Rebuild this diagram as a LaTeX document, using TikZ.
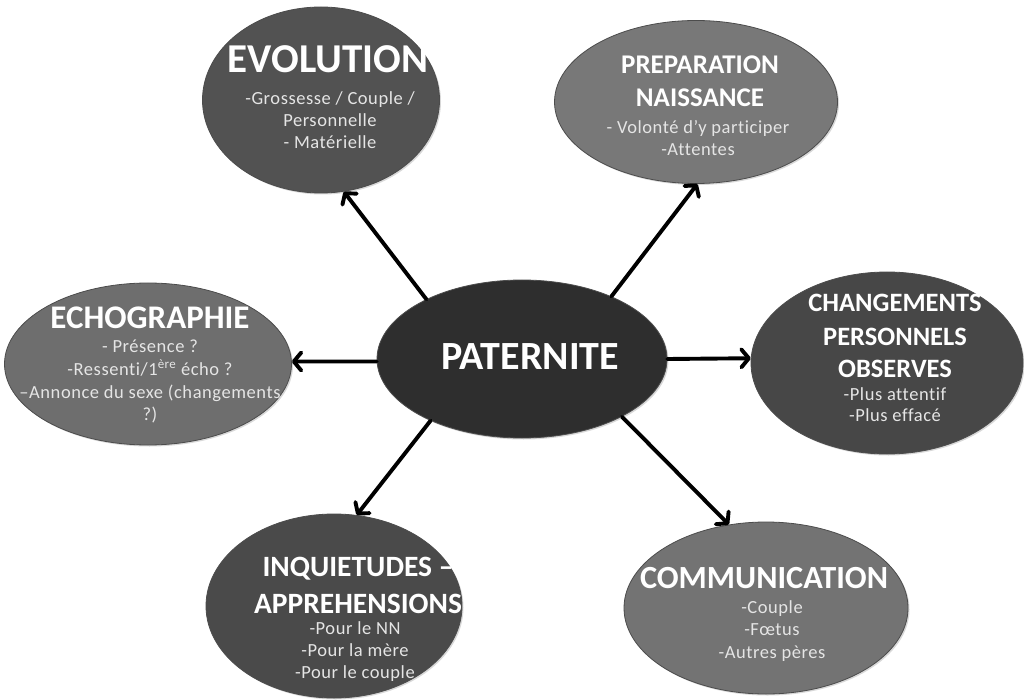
\documentclass[tikz,border=0pt]{standalone}
\usepackage{fontspec}
\setmainfont{Carlito}
\usetikzlibrary{arrows.meta,shapes.geometric,shadows}
\begin{document}
\begin{tikzpicture}[x=1pt,y=-1pt,
  bubble/.style={ellipse, draw=black!70, line width=0.8pt, inner sep=0pt,
    drop shadow={shadow xshift=1.5pt,shadow yshift=-1.5pt,fill=black!30}},
  ttl/.style 2 args={text=white, inner sep=0pt, font=\bfseries\fontsize{#1}{#1}\selectfont,
    text height=#2pt, text depth=0pt},
  sub/.style={text=white!90!black, inner sep=0pt,
    font=\addfontfeature{LetterSpace=3,Ligatures=NoCommon}\fontsize{18.5}{22}\selectfont,
    text height=12.5pt, text depth=0pt},
  link/.style={line width=3.9pt, line cap=round,
    -{Straight Barb[length=7.5pt,width=18pt,round]}}]
\useasboundingbox (0,0) rectangle (1024,700);
\fill[white] (0,0) rectangle (1024,700);

\node[bubble, fill=black!68, minimum width=237pt, minimum height=186pt] (evo) at (321,100) {};
\node[bubble, fill=black!53, minimum width=283pt, minimum height=163pt] (prep) at (696,102) {};
\node[bubble, fill=black!57, minimum width=287pt, minimum height=162pt] (echo) at (148,364) {};
\node[bubble, fill=black!82, minimum width=290pt, minimum height=158pt] (pat) at (522,359) {};
\node[bubble, fill=black!72, minimum width=272pt, minimum height=182pt] (chg) at (887,363) {};
\node[bubble, fill=black!71, minimum width=256pt, minimum height=184pt] (inq) at (334,606) {};
\node[bubble, fill=black!55, minimum width=284pt, minimum height=172pt] (com) at (766,608) {};

% EVOLUTION
\node[ttl={41}{26}] (evo1) at (328,60) {EVOLUTION};
\node[sub] (evo2) at (330,98) {-Grossesse / Couple /};
\node[sub] (evo3) at (330,120) {Personnelle};
\node[sub] (evo4) at (330,142) {- Matérielle};
% PREPARATION
\node[ttl={27}{17}] (prep1) at (700,65) {PREPARATION};
\node[ttl={27}{17}] (prep2) at (700,98) {NAISSANCE};
\node[sub] (prep3) at (698,127) {- Volonté d’y participer};
\node[sub] (prep4) at (698,149) {-Attentes};
% ECHOGRAPHIE
\node[ttl={33}{21}] (echo1) at (150,318) {ECHOGRAPHIE};
\node[sub] (echo2) at (150,346) {- Présence ?};
\node[sub] (echo3) at (150,369) {-Ressenti/1\textsuperscript{ère} écho ?};
\node[sub] (echo4) at (150,392) {–Annonce du sexe (changements};
\node[sub] (echo5) at (150,414) {?)};
% PATERNITE
\node[ttl={40}{25.5}] (pat1) at (530,357) {PATERNITE};
% CHANGEMENTS
\node[ttl={26.5}{17}] (chg1) at (895,303) {CHANGEMENTS};
\node[ttl={26.5}{17}] (chg2) at (895,337) {PERSONNELS};
\node[ttl={26.5}{17}] (chg3) at (895,369) {OBSERVES};
\node[sub] (chg4) at (895,394) {-Plus attentif};
\node[sub] (chg5) at (895,415) {-Plus effacé};
% INQUIETUDES
\node[ttl={29.5}{19}] (inq1) at (358,567) {INQUIETUDES –};
\node[ttl={29.5}{19}] (inq2) at (358,604) {APPREHENSIONS};
\node[sub] (inq3) at (355,628) {-Pour le NN};
\node[sub] (inq4) at (355,650) {-Pour la mère};
\node[sub] (inq5) at (355,672) {-Pour le couple};
% COMMUNICATION
\node[ttl={32.3}{20.5}] (com1) at (764,578) {COMMUNICATION};
\node[sub] (com2) at (772,607) {-Couple};
\node[sub] (com3) at (772,629) {-Fœtus};
\node[sub] (com4) at (772,652) {-Autres pères};

\draw[link] (pat.148) -- (evo.284);
\draw[link] (pat.35) -- (prep.271);
\draw[link] (pat.181) -- (echo.1);
\draw[link] (pat.0) -- (chg.178);
\draw[link] (pat.214) -- (inq.76);
\draw[link] (pat.330) -- (com.114);
\end{tikzpicture}
\end{document}
